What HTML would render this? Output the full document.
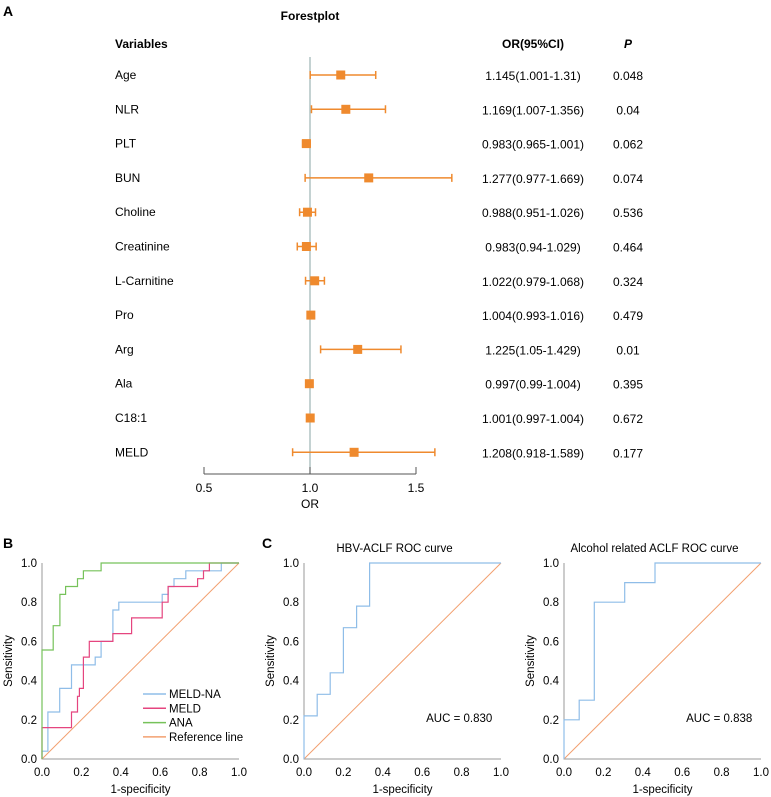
<!DOCTYPE html>
<html><head><meta charset="utf-8"><style>
html,body{margin:0;padding:0;background:#fff;}
svg{display:block;font-family:"Liberation Sans",sans-serif;}
</style></head><body>
<svg id="fig" width="771" height="797" viewBox="0 0 771 797"></svg>
<script>
// ---- Forest plot data ----
const fpVariables = ["Age","NLR","PLT","BUN","Choline","Creatinine","L-Carnitine","Pro","Arg","Ala","C18:1","MELD"];
const fpOR = [1.145,1.169,0.983,1.277,0.988,0.983,1.022,1.004,1.225,0.997,1.001,1.208];
const fpLow = [1.001,1.007,0.965,0.977,0.951,0.94,0.979,0.993,1.05,0.99,0.997,0.918];
const fpHigh = [1.31,1.356,1.001,1.669,1.026,1.029,1.068,1.016,1.429,1.004,1.004,1.589];
const fpP = ["0.048","0.04","0.062","0.074","0.536","0.464","0.324","0.479","0.01","0.395","0.672","0.177"];
const fpTicks = [0.5,1.0,1.5];
// ---- ROC data ----
const rocB_meldna_x = [0,0,0.03,0.03,0.09,0.09,0.15,0.15,0.27,0.27,0.30,0.30,0.36,0.36,0.39,0.39,0.61,0.61,0.64,0.64,0.67,0.67,0.73,0.73,0.91,0.91,1];
const rocB_meldna_y = [0,0.04,0.04,0.24,0.24,0.36,0.36,0.48,0.48,0.52,0.52,0.60,0.60,0.76,0.76,0.80,0.80,0.84,0.84,0.88,0.88,0.92,0.92,0.96,0.96,1,1];
const rocB_meld_x = [0,0,0.15,0.15,0.18,0.18,0.19,0.19,0.21,0.21,0.24,0.24,0.36,0.36,0.455,0.455,0.61,0.61,0.64,0.64,0.79,0.79,0.82,0.82,0.85,0.85,1];
const rocB_meld_y = [0,0.16,0.16,0.24,0.24,0.32,0.32,0.36,0.36,0.52,0.52,0.60,0.60,0.64,0.64,0.72,0.72,0.80,0.80,0.88,0.88,0.92,0.92,0.96,0.96,1,1];
const rocB_ana_x = [0,0,0.057,0.057,0.091,0.091,0.12,0.12,0.18,0.18,0.21,0.21,0.30,0.30,1];
const rocB_ana_y = [0,0.556,0.556,0.68,0.68,0.84,0.84,0.88,0.88,0.92,0.92,0.96,0.96,1,1];
const rocC1_x = [0,0,0.067,0.067,0.133,0.133,0.2,0.2,0.267,0.267,0.333,0.333,1];
const rocC1_y = [0,0.22,0.22,0.33,0.33,0.44,0.44,0.67,0.67,0.78,0.78,1,1];
const rocC2_x = [0,0,0.077,0.077,0.154,0.154,0.308,0.308,0.462,0.462,1];
const rocC2_y = [0,0.2,0.2,0.3,0.3,0.8,0.8,0.9,0.9,1,1];
const rocTicks = [0,0.2,0.4,0.6,0.8,1.0];
const aucC1 = "0.830", aucC2 = "0.838";

const NS="http://www.w3.org/2000/svg";
const svg=document.getElementById('fig');
function mk(tag,attrs,parent,text){const e=document.createElementNS(NS,tag);for(const k in attrs)e.setAttribute(k,attrs[k]);if(text!==undefined)e.textContent=text;(parent||svg).appendChild(e);return e;}

const ORANGE="#ef8a2e";
// Panel labels
let t;
t=mk('text',{x:3,y:16,'font-size':14,'font-weight':'bold'},svg,'A');


t=mk('text',{x:3,y:548,'font-size':14,'font-weight':'bold'},svg,'B');


t=mk('text',{x:262,y:548,'font-size':14,'font-weight':'bold'},svg,'C');



// ---- Forest plot ----
const fx=v=>310+(v-1.0)*212;
const rowY=i=>75+i*34.3;
const fg=mk('g',{});


t=mk('text',{x:310,y:20,'font-size':12,'font-weight':'bold','text-anchor':'middle'},fg,'Forestplot');


t=mk('text',{x:115,y:48,'font-size':12,'font-weight':'bold'},fg,'Variables');


t=mk('text',{x:533,y:48,'font-size':12,'font-weight':'bold','text-anchor':'middle'},fg,'OR(95%CI)');


t=mk('text',{x:628,y:48,'font-size':12,'font-weight':'bold','font-style':'italic','text-anchor':'middle'},fg,'P');


let l=mk('line',{x1:fx(1),x2:fx(1),y1:57,y2:474,stroke:'#9db5b5','stroke-width':1.2},fg);


fpVariables.forEach((v,i)=>{
  const y=rowY(i);
  const g=mk('g',{},fg);
  
  
  let e=mk('text',{x:115,y:y+4,'font-size':12},g,v);
  
  
  const x1=fx(fpLow[i]),x2=fx(fpHigh[i]);
  e=mk('path',{d:`M${x1},${y}H${x2}M${x1},${y-4}V${y+4}M${x2},${y-4}V${y+4}`,stroke:ORANGE,'stroke-width':1.5,fill:'none'},g);
  
  
  e=mk('rect',{x:fx(fpOR[i])-4.5,y:y-4.5,width:9,height:9,fill:ORANGE},g);
  
  
  e=mk('text',{x:533,y:y+5,'font-size':12,'text-anchor':'middle'},g,`${fpOR[i]}(${fpLow[i]}-${fpHigh[i]})`);
  
  
  e=mk('text',{x:628,y:y+5,'font-size':12,'text-anchor':'middle'},g,fpP[i]);
  
  
});
l=mk('line',{x1:fx(0.5),x2:fx(1.5),y1:474,y2:474,stroke:'#555','stroke-width':1},fg);


fpTicks.forEach(v=>{
  let e=mk('line',{x1:fx(v),x2:fx(v),y1:467,y2:474,stroke:'#555'},fg);
  
  
  e=mk('text',{x:fx(v),y:492,'font-size':12,'text-anchor':'middle'},fg,v.toFixed(1));
  
  
});
t=mk('text',{x:fx(1),y:508,'font-size':12,'text-anchor':'middle'},fg,'OR');



// ---- ROC panels ----
function rocPanel(name,ox,title,series,auc,legend){
  const W=197,H=196,oy=759;
  const sx=v=>ox+v*W, sy=v=>oy-v*H;
  const g=mk('g',{});
  
  
  if(title){let e=mk('text',{x:ox+W/2-8,y:552,'font-size':11.5,'text-anchor':'middle'},g,title);
    
    }
  let e=mk('path',{d:`M${sx(0)},${sy(1)}V${oy}H${sx(1)}`,stroke:'#999',fill:'none','stroke-width':1},g);
  
  
  rocTicks.forEach(v=>{
    let a=mk('text',{x:sx(v),y:776,'font-size':11.5,'text-anchor':'middle'},g,v.toFixed(1));
    
    
    a=mk('text',{x:ox-5,y:sy(v)+4,'font-size':11.5,'text-anchor':'end'},g,v.toFixed(1));
    
    
  });
  e=mk('text',{x:sx(0.5),y:793,'font-size':11.5,'text-anchor':'middle'},g,'1-specificity');
  
  
  e=mk('text',{x:0,y:0,'font-size':11.5,'text-anchor':'middle',transform:`translate(${ox-30},${sy(0.5)}) rotate(-90)`},g,'Sensitivity');
  
  
  e=mk('line',{x1:sx(0),y1:sy(0),x2:sx(1),y2:sy(1),stroke:'#f2a070','stroke-width':1},g);
  
  
  series.forEach(s=>{
    const d=s.x.map((v,i)=>(i?'L':'M')+sx(v).toFixed(1)+','+sy(s.y[i]).toFixed(1)).join('');
    const p=mk('path',{d:d,stroke:s.c,fill:'none','stroke-width':1.2},g);
    
    
  });
  if(auc){let a=mk('text',{x:sx(0.62),y:722,'font-size':11.5},g,'AUC = '+auc);
    
    }
  if(legend){
    legend.forEach((it,i)=>{
      const y=694+i*14.3;
      let a=mk('line',{x1:143,x2:166,y1:y,y2:y,stroke:it.c,'stroke-width':1.5},g);
      
      
      a=mk('text',{x:169,y:y+4,'font-size':11.5},g,it.n);
      
      
    });
  }
}
const BLUE="#8fbde8",RED="#e5457f",GREEN="#76c25a",REF="#f2a070";
rocPanel('roc-panel-b',42,null,[
  {x:rocB_meldna_x,y:rocB_meldna_y,c:BLUE,n:'roc-meld-na'},
  {x:rocB_meld_x,y:rocB_meld_y,c:RED,n:'roc-meld'},
  {x:rocB_ana_x,y:rocB_ana_y,c:GREEN,n:'roc-ana'}],null,
  [{n:'MELD-NA',c:BLUE},{n:'MELD',c:RED},{n:'ANA',c:GREEN},{n:'Reference line',c:REF}]);
rocPanel('roc-panel-hbv',304,'HBV-ACLF ROC curve',[{x:rocC1_x,y:rocC1_y,c:BLUE,n:'roc-hbv-aclf'}],aucC1,null);
rocPanel('roc-panel-alcohol',564,'Alcohol related ACLF ROC curve',[{x:rocC2_x,y:rocC2_y,c:BLUE,n:'roc-alcohol-aclf'}],aucC2,null);
</script>
</body></html>
